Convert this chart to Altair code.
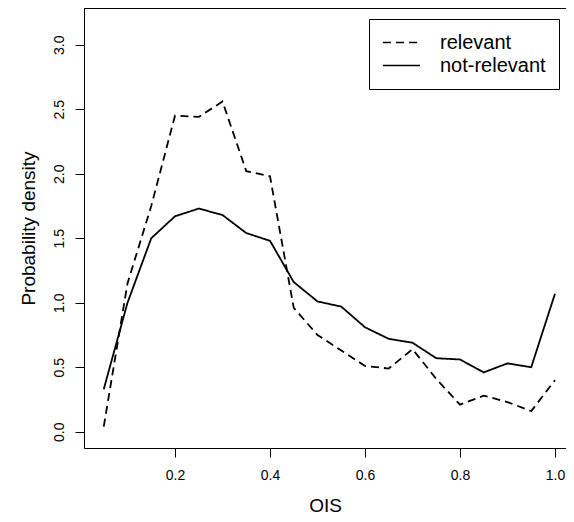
import altair as alt
import pandas as pd

ois = [0.05, 0.10, 0.15, 0.20, 0.25, 0.30, 0.35, 0.40, 0.45, 0.50,
       0.55, 0.60, 0.65, 0.70, 0.75, 0.80, 0.85, 0.90, 0.95, 1.00]
relevant = [0.04, 1.15, 1.75, 2.45, 2.44, 2.56, 2.02, 1.98, 0.96, 0.75,
            0.63, 0.51, 0.49, 0.64, 0.41, 0.21, 0.28, 0.23, 0.16, 0.40]
not_relevant = [0.33, 1.00, 1.50, 1.67, 1.73, 1.68, 1.54, 1.48, 1.16, 1.01,
                0.97, 0.81, 0.72, 0.69, 0.57, 0.56, 0.46, 0.53, 0.50, 1.07]
series_names = ["relevant", "not-relevant"]
x_ticks = [0.2, 0.4, 0.6, 0.8, 1.0]
y_ticks = [0.0, 0.5, 1.0, 1.5, 2.0, 2.5, 3.0]

df = pd.DataFrame({
    "OIS": ois + ois,
    "density": relevant + not_relevant,
    "series": [series_names[0]] * len(ois) + [series_names[1]] * len(ois),
})

W, H = 482, 440
FONT = "Liberation Sans"

x_scale = alt.Scale(domain=[0.0084, 1.0232], nice=False, zero=False)
y_scale = alt.Scale(domain=[-0.126, 3.2845], nice=False, zero=False)

lines = alt.Chart(df).mark_line(color="black", strokeWidth=1.8, strokeCap="butt", clip=True).encode(
    x=alt.X("OIS:Q", scale=x_scale, axis=alt.Axis(
        values=x_ticks, format=".1f", title="OIS", grid=False,
        tickSize=9, labelPadding=11, titlePadding=14,
        labelFontSize=14, titleFontSize=19, labelFont=FONT, titleFont=FONT,
        titleFontWeight="normal", labelColor="black", titleColor="black",
        domainColor="black", tickColor="black", labelFlush=False)),
    y=alt.Y("density:Q", scale=y_scale, axis=alt.Axis(
        values=y_ticks, format=".1f", title="Probability density", grid=False,
        tickSize=9, labelPadding=9, titlePadding=14, labelAngle=270,
        labelAlign="center", labelBaseline="bottom",
        labelFontSize=14, titleFontSize=19, labelFont=FONT, titleFont=FONT,
        titleFontWeight="normal", labelColor="black", titleColor="black",
        domainColor="black", tickColor="black", labelFlush=False)),
    strokeDash=alt.StrokeDash("series:N", scale=alt.Scale(domain=series_names, range=[[8, 5], [1, 0]]),
        legend=alt.Legend(title=None, orient="none", legendX=285, legendY=11,
                          strokeColor="black", fillColor="white", padding=13, cornerRadius=0,
                          symbolType="stroke", symbolSize=1369, symbolStrokeWidth=1.3,
                          symbolStrokeColor="black", labelFont=FONT, labelFontSize=20,
                          labelColor="black", labelOffset=19, clipHeight=21, rowPadding=2,
                          labelLimit=300)),
)

top_edge = alt.Chart(pd.DataFrame({"edge": [0]})).mark_rule(color="black", strokeWidth=1).encode(
    y=alt.value(0.5), x=alt.value(0), x2=alt.value(W)
)

chart = alt.layer(lines, top_edge).properties(
    width=W, height=H,
    autosize=alt.AutoSizeParams(type="none"),
    padding={"left": 76, "top": 0, "right": 0, "bottom": 66},
).configure_view(stroke="transparent")

chart.save("out.html", embed_options={"renderer": "svg", "actions": False})
